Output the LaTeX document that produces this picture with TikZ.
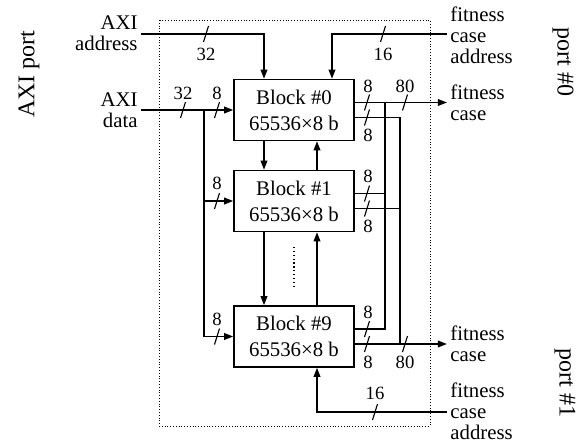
\documentclass[tikz,border=0pt]{standalone}
\usepackage{fontspec}
\setmainfont{Liberation Serif}
\usetikzlibrary{arrows.meta,calc}
\newcommand\bwslash[1]{\draw[slashline] ($(#1)+(-2.5,8)$) -- ($(#1)+(2.5,-8)$);}
\begin{document}
\begin{tikzpicture}[x=0.75pt,y=-0.75pt,
  line width=1.15pt,
  >={Triangle[length=6.8pt,width=5pt]},
  blk/.style={draw,minimum width=90pt,minimum height=45.75pt,inner sep=0pt,align=center,font=\fontsize{15.6}{19.5}\selectfont},
  lbl/.style={font=\fontsize{15.6}{15.6}\selectfont,inner sep=2pt},
  num/.style={font=\fontsize{14}{14}\selectfont,inner sep=0pt},
  portlbl/.style={font=\fontsize{18}{18}\selectfont,inner sep=0pt},
  slashline/.style={line width=0.85pt},
  dotbox/.style={line width=0.75pt,dash pattern=on 0.8pt off 1.3pt},
  vdots/.style={line width=1pt,dash pattern=on 0.9pt off 2pt}]
\useasboundingbox (0,0) rectangle (585,446);

% enclosing dotted box
\draw[dotbox] (159,20) rectangle (430,426);

% memory blocks
\node[blk] (b0) at (294,110) {Block \#0\\65536×8 b};
\node[blk] (b1) at (294,201) {Block \#1\\65536×8 b};
\node[blk] (b9) at (294,336.5) {Block \#9\\65536×8 b};

% outer labels
\node[lbl,anchor=east,align=right] (axiA) at (141,33) {AXI\\address};
\node[lbl,anchor=east,align=right] (axiD) at (141,110) {AXI\\data};
\node[lbl,anchor=west,align=left] (fcaT) at (447,35) {fitness\\case\\address};
\node[lbl,anchor=west,align=left] (fcT) at (447,103) {fitness\\case};
\node[lbl,anchor=west,align=left] (fcB) at (447,344) {fitness\\case};
\node[lbl,anchor=west,align=left] (fcaB) at (447,411) {fitness\\case\\address};
\node[portlbl,rotate=90] (pAXI) at (29,74) {AXI port};
\node[portlbl,rotate=-90] (p0) at (563,62) {port \#0};
\node[portlbl,rotate=-90] (p1) at (565,383) {port \#1};

% AXI address
\coordinate (a1) at (264,34);
\draw[->] (axiA.east |- a1) -- (a1) -- (a1 |- b0.north);
% fitness case address (port 0)
\coordinate (f1) at (332,34);
\draw[->] (fcaT.west |- f1) -- (f1) -- (f1 |- b0.north);
% AXI data
\coordinate (d) at (204,110);
\draw[->] (axiD.east |- b0.west) -- (b0.west);
\draw[->] (d) |- (b9.west);
\draw[->] (d |- b1.west) -- (b1.west);

% block chain arrows
\draw[->] ($(b0.south)+(-30,0)$) -- ($(b1.north)+(-30,0)$);
\draw[->] ($(b1.north)+(23,0)$) -- ($(b0.south)+(23,0)$);
\draw[->] ($(b1.south)+(-30,0)$) -- ($(b9.north)+(-30,0)$);
\draw[->] ($(b9.north)+(23,0)$) -- ($(b1.south)+(23,0)$);
\coordinate (dt) at (294,247);
\coordinate (db) at (294,288);
\draw[vdots] (dt) -- (db);

% outputs
\coordinate (o0u) at ($(b0.east)+(0,-7.5)$);
\coordinate (o0l) at ($(b0.east)+(0,7.5)$);
\coordinate (o1u) at ($(b1.east)+(0,-7.5)$);
\coordinate (o1l) at ($(b1.east)+(0,7.5)$);
\coordinate (o9u) at ($(b9.east)+(0,-7.5)$);
\coordinate (o9l) at ($(b9.east)+(0,7.5)$);
\coordinate (busA) at (385,0);
\coordinate (busB) at (400,0);
\draw[->] (o0u) -- (o0u -| fcT.west);
\draw (o0u -| busA) -- (o9u -| busA) -- (o9u);
\draw (o0l) -| (busB |- o9l);
\draw (o1u) -- (o1u -| busA);
\draw (o1l) -- (o1l -| busB);
\draw[->] (o9l) -- (o9l -| fcB.west);

% fitness case address (port 1)
\coordinate (f9) at (317,412);
\draw[->] (fcaB.west |- f9) -- (f9) -- (f9 |- b9.south);

% bus width marks
\bwslash{206,34}
\bwslash{383,34}
\bwslash{183,110}
\bwslash{217,110}
\bwslash{217,201}
\bwslash{217,336.5}
\bwslash{367,102.5}
\bwslash{367,117.5}
\bwslash{405,102.5}
\bwslash{367,193.5}
\bwslash{367,208.5}
\bwslash{367,329}
\bwslash{367,344}
\bwslash{405,344}
\bwslash{375,412}

\node[num] (n1) at (206,54) {32};
\node[num] (n2) at (383,54) {16};
\node[num] (n3) at (183,93) {32};
\node[num] (n4) at (217,93) {8};
\node[num] (n5) at (217,183) {8};
\node[num] (n6) at (217,319) {8};
\node[num] (n7) at (368,86) {8};
\node[num] (n8) at (368,135) {8};
\node[num] (n9) at (405,86) {80};
\node[num] (n10) at (368,176) {8};
\node[num] (n11) at (368,226) {8};
\node[num] (n12) at (368,312) {8};
\node[num] (n13) at (368,362) {8};
\node[num] (n14) at (405,362) {80};
\node[num] (n15) at (375,393) {16};
\end{tikzpicture}
\end{document}
